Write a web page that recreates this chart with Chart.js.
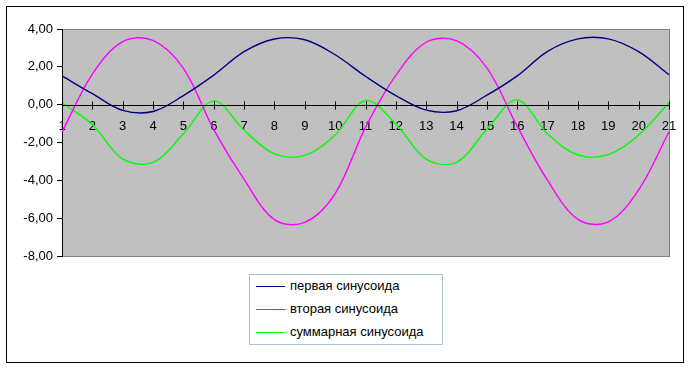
<!DOCTYPE html>
<html>
<head>
<meta charset="utf-8">
<script src="https://cdn.jsdelivr.net/npm/chart.js@4"></script>
<style>
  body { margin: 0; background: #fff; }
  #wrap { position: relative; width: 691px; height: 368px; }
  #legend {
    position: absolute; left: 249px; top: 274px; width: 192px; height: 69px;
    border: 1px solid #a8c4d4; background: #fff;
    font: 13px "Liberation Sans", Arial, sans-serif; color: #000;
  }
  #legend .row { position: absolute; left: 6px; height: 16px; line-height: 16px; white-space: nowrap; }
  #legend .swatch { display: inline-block; width: 29px; height: 1px; vertical-align: middle; margin-right: 5px; }
</style>
</head>
<body>
<div id="wrap">
  <canvas id="chart" width="691" height="368"></canvas>
  <div id="legend"></div>
</div>
<script>
// Chart values
const xLabels = ['1', '2', '3', '4', '5', '6', '7', '8', '9', '10', '11',
  '12', '13', '14', '15', '16', '17', '18', '19', '20', '21'];
const firstWave = [1.52, 0.58, -0.30, -0.36, 0.48, 1.56, 2.80, 3.47, 3.43, 2.64, 1.50,
  0.48, -0.29, -0.32, 0.50, 1.52, 2.82, 3.48, 3.48, 2.80, 1.58];
const secondWave = [-1.45, 1.62, 3.33, 3.40, 1.92, -1.32, -3.95, -6.08, -6.22, -4.70, -1.20,
  1.55, 3.30, 3.38, 1.94, -1.15, -4.00, -6.06, -6.20, -4.50, -1.43];
const sumWave = [0.10, -1.05, -2.87, -3.05, -1.54, 0.20, -1.35, -2.60, -2.68, -1.60, 0.22,
  -1.02, -2.88, -3.05, -1.30, 0.25, -1.55, -2.66, -2.64, -1.60, 0.10];
const seriesNames = ['первая синусоида', 'вторая синусоида', 'суммарная синусоида'];
const seriesColors = ['#000080', '#ff00ff', '#00ff00'];

const FONT = '"Liberation Sans", Arial, sans-serif';

// Gray plot area, outer frame and cross ticks on the zero line
const framePlugin = {
  id: 'frame',
  beforeDraw(chart) {
    const { ctx, chartArea: a } = chart;
    ctx.save();
    ctx.fillStyle = '#fff';
    ctx.fillRect(0, 0, chart.width, chart.height);
    ctx.strokeStyle = '#000';
    ctx.lineWidth = 1;
    ctx.strokeRect(6.5, 6.5, 677, 356);
    ctx.fillStyle = '#c0c0c0';
    ctx.fillRect(a.left, a.top, a.right - a.left, a.bottom - a.top);
    ctx.strokeStyle = '#808080';
    ctx.strokeRect(a.left + 0.5, a.top + 0.5, a.right - a.left, a.bottom - a.top);
    ctx.restore();
  },
  afterDatasetsDraw(chart) {
    const { ctx } = chart;
    const xs = chart.scales.x;
    const y0 = Math.round(chart.scales.y.getPixelForValue(0)) + 0.5;
    ctx.save();
    ctx.strokeStyle = '#000';
    ctx.lineWidth = 1;
    ctx.beginPath();
    ctx.moveTo(chart.chartArea.left, y0);
    ctx.lineTo(chart.chartArea.right, y0);
    xs.ticks.forEach((t, i) => {
      const x = Math.round(xs.getPixelForTick(i)) + 0.5;
      ctx.moveTo(x, y0 - 4);
      ctx.lineTo(x, y0 + 4);
    });
    ctx.stroke();
    ctx.restore();
  }
};

const datasets = [firstWave, secondWave, sumWave].map((data, i) => ({
  label: seriesNames[i],
  data: data,
  borderColor: seriesColors[i],
  backgroundColor: seriesColors[i],
  borderWidth: 1.4,
  pointRadius: 0,
  tension: 0.35,
  fill: false
}));

new Chart(document.getElementById('chart'), {
  type: 'line',
  data: { labels: xLabels, datasets: datasets },
  options: {
    responsive: false,
    animation: false,
    layout: { padding: { top: 29, right: 22, bottom: 112, left: 0 } },
    plugins: { legend: { display: false }, tooltip: { enabled: false } },
    scales: {
      x: {
        position: { y: 0 },
        offset: false,
        afterFit(scale) { scale.height = 0; },
        grid: { display: false },
        border: { display: false },
        ticks: {
          autoSkip: false, maxRotation: 0, padding: 6,
          color: '#000', font: { family: FONT, size: 13 }
        }
      },
      y: {
        min: -8, max: 4,
        afterFit(scale) { scale.width = 62; },
        grid: { drawOnChartArea: false, tickLength: 5, color: '#000' },
        border: { display: true, color: '#000' },
        ticks: {
          stepSize: 2, padding: 4, color: '#000', font: { family: FONT, size: 13 },
          callback: v => v.toFixed(2).replace('.', ',')
        }
      }
    }
  },
  plugins: [framePlugin]
});

// Legend box below the plot
const legend = document.getElementById('legend');
seriesNames.forEach((name, i) => {
  const row = document.createElement('div');
  row.className = 'row';
  row.style.top = (3 + i * 23) + 'px';
  row.innerHTML = '<span class="swatch" style="background:' + seriesColors[i] + '"></span>' + name;
  legend.appendChild(row);
});
</script>
</body>
</html>
